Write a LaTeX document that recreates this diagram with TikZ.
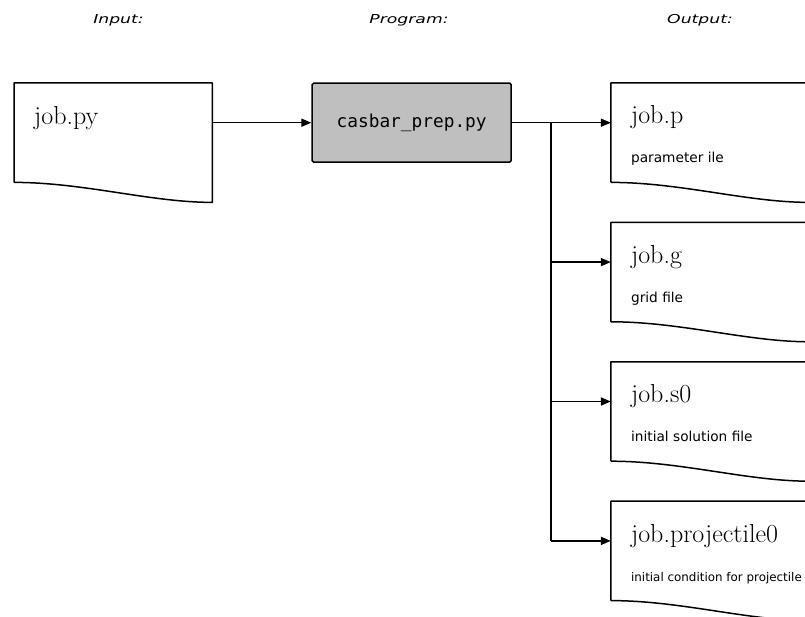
\documentclass[tikz,border=0pt]{standalone}
\usepackage{fontspec}
\newfontfamily\headfont{DejaVu Sans}[FakeStretch=1.4]
\newfontfamily\descfont{DejaVu Sans}
\newfontfamily\progfont{DejaVu Sans Mono}
\usetikzlibrary{positioning,arrows.meta}
\tikzset{
  doc/.style={minimum width=198pt,minimum height=79pt,inner sep=0pt},
  docline/.style={line width=1.5pt,line join=round},
  progbox/.style={draw,line width=1.5pt,fill=black!25,rounded corners=1.5pt,minimum width=199pt,minimum height=79pt,inner sep=0pt,font=\progfont\fontsize{17.8}{20}\selectfont},
  flow/.style={line width=1.5pt,-{Triangle[length=10pt,width=8pt]}},
  head/.style={font=\headfont\itshape\fontsize{12.3}{14}\selectfont,anchor=base,inner sep=0pt},
  title/.style={font=\fontsize{26}{30}\selectfont,anchor=base west,inner sep=0pt},
  desc/.style={font=\descfont\fontsize{13.7}{16}\selectfont,anchor=base west,inner sep=0pt}
}
\begin{document}
\begin{tikzpicture}[x=1pt,y=-1pt]
\useasboundingbox (0,0) rectangle (805,617);
% column headings
\node[head] (hin) at (118.5,23.3) {Input:};
\node[head] (hprog) at (409,23.3) {Program:};
\node[head] (hout) at (700,23.3) {Output:};
% files and program
\node[doc,anchor=north west] (in) at (14,83) {};
\node[progbox,right=99pt of in] (prog) {casbar\_prep.py};
\node[doc,right=99pt of prog] (p) {};
\node[doc,below=60pt of p] (g) {};
\node[doc,below=60pt of g] (s) {};
\node[doc,below=60pt of s] (pj) {};
\foreach \d in {in,p,g,s,pj}
  \draw[docline] ([yshift=-20pt]\d.south west) -- (\d.north west) -- (\d.north east) -- ([yshift=-40pt]\d.south east) .. controls +(-62,0) and +(70,0) .. ([yshift=-20pt]\d.south west);
% file names
\node[title] (tin) at ([xshift=20pt,yshift=-42pt]in.north west) {job.py};
\node[title] (tp) at ([xshift=20pt,yshift=-41pt]p.north west) {job.p};
\node[title] (tg) at ([xshift=20pt,yshift=-41pt]g.north west) {job.g};
\node[title] (ts) at ([xshift=20pt,yshift=-41pt]s.north west) {job.s0};
\node[title] (tpj) at ([xshift=20pt,yshift=-41pt]pj.north west) {job.projectile0};
\node[desc] (dp) at ([xshift=20pt,yshift=-80pt]p.north west) {parameter ile};
\node[desc] (dg) at ([xshift=20pt,yshift=-80pt]g.north west) {grid file};
\node[desc] (ds) at ([xshift=20pt,yshift=-80pt]s.north west) {initial solution file};
\node[desc,font=\descfont\fontsize{11.9}{14}\selectfont] (dpj) at ([xshift=20pt,yshift=-80pt]pj.north west) {initial condition for projectile};
% connectors
\coordinate (split) at ([xshift=39pt]prog.east);
\draw[flow] (in) -- (prog);
\draw[flow] (prog) -- (p);
\draw[line width=1.5pt] (split) -- (split |- pj.west);
\foreach \o in {g,s,pj}
  \draw[flow] (split |- \o.west) -- (\o.west);
\end{tikzpicture}
\end{document}
